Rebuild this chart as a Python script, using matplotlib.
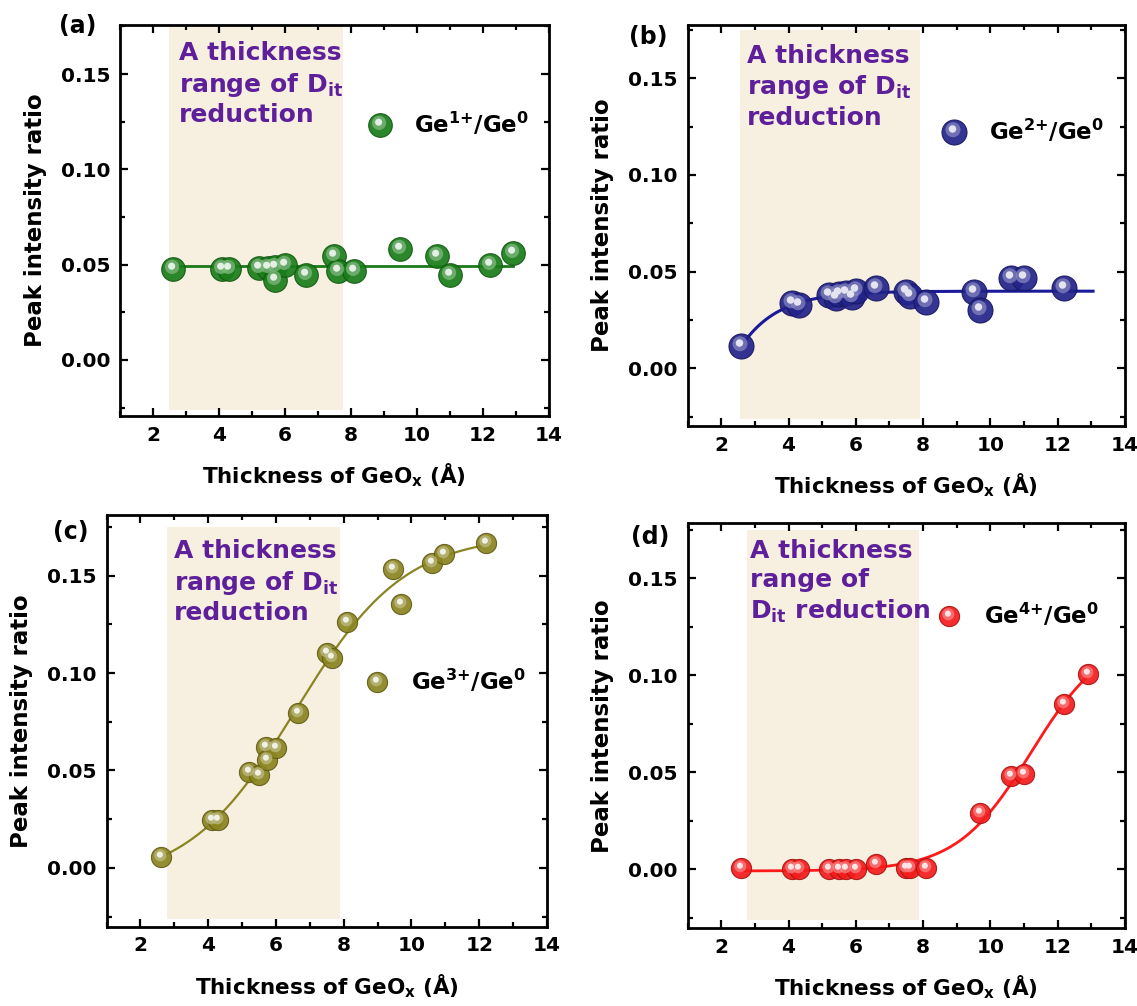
import numpy as np
import matplotlib
matplotlib.use("Agg")
import matplotlib.pyplot as plt
from matplotlib.path import Path
from matplotlib.colors import to_rgb
from matplotlib.legend_handler import HandlerTuple
from matplotlib.ticker import MultipleLocator, FormatStrFormatter

plt.rcParams.update({
    "font.family": "DejaVu Sans",
    "font.weight": "bold",
    "axes.labelweight": "bold",
    "mathtext.fontset": "custom",
    "mathtext.rm": "DejaVu Sans:bold",
    "mathtext.it": "DejaVu Sans:bold",
    "mathtext.bf": "DejaVu Sans:bold",
    "mathtext.sf": "DejaVu Sans:bold",
})

# ---------------------------------------------------------------------------
# XPS peak intensity ratios vs. GeOx thickness (Angstrom)
# ---------------------------------------------------------------------------
thk_ge1 = [2.6, 4.1, 4.3, 5.2, 5.5, 5.7, 5.7, 6.0, 6.65, 7.5, 7.6, 8.1,
           9.5, 10.6, 11.0, 12.2, 12.9]
ratio_ge1 = [0.0476, 0.0478, 0.0478, 0.0485, 0.0485, 0.0488, 0.0420, 0.0500,
             0.0448, 0.0546, 0.0465, 0.0465, 0.0580, 0.0548, 0.0446, 0.0498,
             0.0560]

thk_ge2 = [2.6, 4.1, 4.3, 5.2, 5.4, 5.5, 5.7, 5.9, 6.0, 6.6, 7.5, 7.6, 8.1,
           9.5, 9.7, 10.6, 11.0, 12.2]
ratio_ge2 = [0.0115, 0.0336, 0.0327, 0.0380, 0.0365, 0.0385, 0.0390, 0.0370,
             0.0400, 0.0414, 0.0396, 0.0372, 0.0345, 0.0396, 0.0302, 0.0466,
             0.0466, 0.0414]

thk_ge3 = [2.6, 4.1, 4.3, 5.2, 5.5, 5.7, 5.75, 6.0, 6.65, 7.5, 7.65, 8.1,
           9.45, 9.7, 10.6, 10.95, 12.2]
ratio_ge3 = [0.0057, 0.0247, 0.0244, 0.0492, 0.0478, 0.0623, 0.0552, 0.0615,
             0.0794, 0.1101, 0.1076, 0.1264, 0.1532, 0.1357, 0.1566, 0.1612,
             0.1667]

thk_ge4 = [2.6, 4.1, 4.3, 5.2, 5.5, 5.7, 6.0, 6.6, 7.5, 7.6, 8.1, 9.7, 10.6,
           11.0, 12.2, 12.9]
ratio_ge4 = [0.0005, 0.0003, 0.0003, 0.0, 0.0, 0.0, 0.0, 0.0025, 0.0008,
             0.0008, 0.0008, 0.0290, 0.0480, 0.0490, 0.0850, 0.1005]

series_labels = [r"Ge$^{1{+}}$/Ge$^{0}$", r"Ge$^{2{+}}$/Ge$^{0}$",
                 r"Ge$^{3{+}}$/Ge$^{0}$", r"Ge$^{4{+}}$/Ge$^{0}$"]
panel_tags = ["(a)", "(b)", "(c)", "(d)"]
dit_note = r"A thickness" "\n" r"range of D$_{it}$" "\n" r"reduction"
dit_note_d = r"A thickness" "\n" r"range of" "\n" r"D$_{it}$ reduction"

# Dit-reduction window (x range) for each panel
dit_window = [(2.5, 7.75), (2.57, 7.9), (2.77, 7.9), (2.77, 7.87)]


# ---------------------------------------------------------------------------
# fitting helpers
# ---------------------------------------------------------------------------
def boltzmann_fit(x, y, x_new):
    """Boltzmann sigmoid fit: grid over (x0, dx), linear LSQ for plateaus."""
    x = np.asarray(x, float)
    y = np.asarray(y, float)
    best = (np.inf, None)
    for x0 in np.linspace(-4, 20, 241):
        for dx in np.linspace(0.2, 5.0, 49):
            f = 1.0 / (1.0 + np.exp((x - x0) / dx))
            A = np.column_stack([f, 1 - f])
            coef = np.linalg.lstsq(A, y, rcond=None)[0]
            sse = np.sum((A @ coef - y) ** 2)
            if sse < best[0]:
                best = (sse, (x0, dx, coef))
    x0, dx, (a1, a2) = best[1]
    f = 1.0 / (1.0 + np.exp((x_new - x0) / dx))
    return a2 + (a1 - a2) * f


def flat_fit(x, y, x_new):
    return np.polyval(np.polyfit(x, y, 0), x_new)


# ---------------------------------------------------------------------------
# shaded "sphere" markers
# ---------------------------------------------------------------------------
def _spot(cx, cy, r):
    # the two corner moves pin the marker scale to the plain 'o' marker
    corners = Path([(-0.5, -0.5), (0.5, 0.5)], [Path.MOVETO, Path.MOVETO])
    return Path.make_compound_path(corners, Path.circle((cx, cy), r))


GLOW = _spot(-0.06, 0.11, 0.30)
SPEC = _spot(-0.08, 0.14, 0.15)


def _mix(color, other, t):
    c = np.array(to_rgb(color))
    o = np.array(to_rgb(other))
    return tuple(c + (o - c) * t)


def draw_balls(ax, x, y, color, size):
    base, = ax.plot(x, y, ls="none", marker="o", ms=size, mfc=color,
                    mec=_mix(color, "black", 0.3), mew=0.8, alpha=0.92,
                    zorder=3)
    glow, = ax.plot(x, y, ls="none", marker=GLOW, ms=size,
                    mfc=_mix(color, "white", 0.45), mew=0, alpha=0.75,
                    zorder=3)
    spec, = ax.plot(x, y, ls="none", marker=SPEC, ms=size,
                    mfc=_mix(color, "white", 0.88), mew=0, zorder=3)
    return base, glow, spec


# ---------------------------------------------------------------------------
# figure
# ---------------------------------------------------------------------------
fig = plt.figure(figsize=(11.37, 10.06), dpi=100)

panels = [
    dict(rect=[0.1055, 0.5865, 0.3773, 0.3887], ylim=(-0.0294, 0.1758),
         x=thk_ge1, y=ratio_ge1, fit=flat_fit, fit_end=12.9,
         ball="#1a7d1a", line="#1a7a1a", ms=17, lw=2.0,
         note=dit_note, note_xy=(2.8, 0.1672),
         leg_xy=(0.606, 0.746), tag_xy=(78, 26)),
    dict(rect=[0.6047, 0.5765, 0.3848, 0.3986], ylim=(-0.0298, 0.1775),
         x=thk_ge2, y=ratio_ge2, fit=boltzmann_fit, fit_end=13.05,
         ball="#22228a", line="#1a1a9a", ms=18, lw=2.2,
         note=dit_note, note_xy=(2.76, 0.1676),
         leg_xy=(0.610, 0.734), tag_xy=(648, 37)),
    dict(rect=[0.0937, 0.0788, 0.3874, 0.4092], ylim=(-0.0302, 0.1811),
         x=thk_ge3, y=ratio_ge3, fit=boltzmann_fit, fit_end=12.3,
         ball="#8a8420", line="#8a8422", ms=14.5, lw=1.6,
         note=dit_note, note_xy=(3.0, 0.1686),
         leg_xy=(0.613, 0.596), tag_xy=(71, 532)),
    dict(rect=[0.6047, 0.0772, 0.3848, 0.4026], ylim=(-0.0305, 0.1782),
         x=thk_ge4, y=ratio_ge4, fit=boltzmann_fit, fit_end=12.9,
         ball="#f41c1c", line="#ff1a1a", ms=14.5, lw=2.0,
         note=dit_note_d, note_xy=(2.85, 0.1699),
         leg_xy=(0.598, 0.772), tag_xy=(650, 537)),
]

W, H = 1137, 1006
LEG_FS = 16.5
HANDLE_LEN = 1.0

for i, p in enumerate(panels):
    ax = fig.add_axes(p["rect"])
    ax.set_xlim(1, 14)
    ax.set_ylim(*p["ylim"])

    x0, x1 = dit_window[i]
    ax.fill_between([x0, x1], -0.026, 0.175, color="#f7f0e0", lw=0, zorder=0)

    xs = np.linspace(min(p["x"]), p["fit_end"], 300)
    ax.plot(xs, p["fit"](p["x"], p["y"], xs), color=p["line"], lw=p["lw"],
            zorder=2)
    handles = draw_balls(ax, p["x"], p["y"], p["ball"], p["ms"])

    ax.text(*p["note_xy"], p["note"], color="#5e1f9b", fontsize=18,
            fontweight="bold", ha="left", va="top", linespacing=1.25,
            zorder=1)

    ax_w_px = p["rect"][2] * W
    half_handle = HANDLE_LEN * LEG_FS * 100 / 72 / 2 / ax_w_px
    ax.legend([handles], [series_labels[i]],
              handler_map={tuple: HandlerTuple(ndivide=1, pad=0)},
              loc="center left",
              bbox_to_anchor=(p["leg_xy"][0] - half_handle, p["leg_xy"][1]),
              frameon=False, fontsize=LEG_FS, handlelength=HANDLE_LEN,
              handletextpad=1.0, borderpad=0, borderaxespad=0, numpoints=1)

    ax.xaxis.set_major_locator(MultipleLocator(2))
    ax.xaxis.set_minor_locator(MultipleLocator(1))
    ax.yaxis.set_major_locator(MultipleLocator(0.05))
    ax.yaxis.set_minor_locator(MultipleLocator(0.025))
    ax.yaxis.set_major_formatter(FormatStrFormatter("%.2f"))
    ax.tick_params(which="both", direction="in", top=True, right=True,
                   width=1.6, labelsize=14.5)
    ax.tick_params(which="major", length=6, pad=7)
    ax.tick_params(which="minor", length=3.6)
    for lab in ax.get_xticklabels() + ax.get_yticklabels():
        lab.set_fontweight("bold")
    for sp in ax.spines.values():
        sp.set_linewidth(2.0)

    ax.set_xlabel("Thickness of GeO$_x$ (Å)", fontsize=15.5, labelpad=12)
    ax.set_ylabel("Peak intensity ratio", fontsize=16.5, labelpad=10)

    tx, ty = p["tag_xy"]
    fig.text(tx / W, 1 - ty / H, panel_tags[i], fontsize=17,
             fontweight="bold", ha="center", va="center")

fig.savefig("out.png", dpi=100)
